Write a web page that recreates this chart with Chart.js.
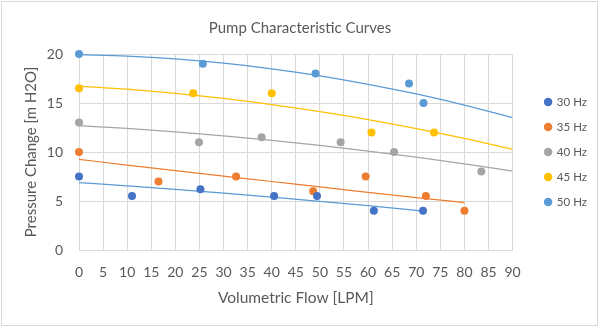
<!DOCTYPE html>
<html>
<head>
  <title>Pump Characteristic Curves</title>
  <script src="https://cdn.jsdelivr.net/npm/chart.js@4.4.1/dist/chart.umd.min.js"></script>
  <style>
    html, body { margin: 0; padding: 0; background: #fff; }
    .chart-box { position: relative; width: 600px; height: 330px; }
  </style>
</head>
<body>
  <div class="chart-box"><canvas id="pump-chart"></canvas></div>

  <script>
    // measured points, flow [LPM] vs pressure change [m H2O]
    const flow30 = [0, 11, 25.2, 40.5, 49.4, 61.2, 71.4];
    const head30 = [7.5, 5.5, 6.2, 5.5, 5.5, 4.0, 4.0];
    const flow35 = [0, 16.5, 32.6, 48.6, 59.5, 72, 80];
    const head35 = [10, 7, 7.5, 6, 7.5, 5.5, 4];
    const flow40 = [0, 24.9, 37.9, 54.3, 65.4, 83.5];
    const head40 = [13, 11, 11.5, 11, 10, 8];
    const flow45 = [0, 23.7, 40, 60.7, 73.7];
    const head45 = [16.5, 16, 16, 12, 12];
    const flow50 = [0, 25.7, 49.1, 68.5, 71.5];
    const head50 = [20, 19, 18, 17, 15];

    // trendlines
    const trendFlow30 = [0, 10, 20, 30, 40, 50, 60, 70, 71.4];
    const trend30 = [6.87, 6.54, 6.18, 5.80, 5.40, 4.97, 4.52, 4.05, 3.98];
    const trendFlow35 = [0, 10, 20, 30, 40, 50, 60, 70, 80];
    const trend35 = [9.25, 8.67, 8.10, 7.54, 6.99, 6.43, 5.89, 5.35, 4.83];
    const trendFlow = [0, 10, 20, 30, 40, 50, 60, 70, 80, 90];
    const trend40 = [12.69, 12.40, 12.05, 11.64, 11.18, 10.67, 10.10, 9.48, 8.80, 8.06];
    const trend45 = [16.73, 16.41, 15.98, 15.46, 14.84, 14.12, 13.31, 12.39, 11.38, 10.27];
    const trend50 = [19.93, 19.78, 19.49, 19.06, 18.49, 17.77, 16.91, 15.92, 14.78, 13.5];

    const seriesNames = ['30 Hz', '35 Hz', '40 Hz', '45 Hz', '50 Hz'];
    const seriesColors = ['#4472C4', '#ED7D31', '#A5A5A5', '#FFC000', '#5B9BD5'];
    const trendColors = ['#5B9BD5', '#ED7D31', '#A5A5A5', '#FFC000', '#5B9BD5'];

    const xTicks = [0, 5, 10, 15, 20, 25, 30, 35, 40, 45, 50, 55, 60, 65, 70, 75, 80, 85, 90];
    const yTicks = [0, 5, 10, 15, 20];

    const grey = '#595959';
    const fontFamily = 'Lato, "Open Sans", sans-serif';

    function pairs(xs, ys) {
      return xs.map((x, i) => ({ x: x, y: ys[i] }));
    }

    const points = [[flow30, head30], [flow35, head35], [flow40, head40], [flow45, head45], [flow50, head50]];
    const trends = [[trendFlow30, trend30], [trendFlow35, trend35], [trendFlow, trend40], [trendFlow, trend45], [trendFlow, trend50]];

    const datasets = [];
    points.forEach((p, i) => {
      datasets.push({
        label: seriesNames[i],
        data: pairs(p[0], p[1]),
        showLine: false,
        pointRadius: 4,
        pointHoverRadius: 4,
        backgroundColor: seriesColors[i],
        borderColor: seriesColors[i],
        borderWidth: 0,
        clip: false,
        order: 1
      });
    });
    trends.forEach((t, i) => {
      datasets.push({
        label: seriesNames[i] + ' trend',
        data: pairs(t[0], t[1]),
        showLine: true,
        pointRadius: 0,
        borderColor: trendColors[i],
        borderWidth: 1.25,
        cubicInterpolationMode: 'monotone',
        fill: false,
        order: 2
      });
    });

    // light frame round the whole chart, and push the legend a bit away from the plot
    const framePlugin = {
      id: 'frame',
      afterLayout(chart) {
        const lg = chart.legend;
        if (lg) { lg.left += 19; lg.right += 19; }
      },
      afterDraw(chart) {
        const ctx = chart.ctx;
        ctx.save();
        ctx.strokeStyle = '#d9d9d9';
        ctx.lineWidth = 1;
        ctx.strokeRect(1.5, 1.5, 596, 324);
        ctx.restore();
      }
    };

    new Chart(document.getElementById('pump-chart'), {
      type: 'scatter',
      data: { datasets: datasets },
      plugins: [framePlugin],
      options: {
        responsive: true,
        maintainAspectRatio: false,
        animation: false,
        layout: { padding: { left: 22, right: 22, top: 0, bottom: 4 } },
        plugins: {
          tooltip: { enabled: false },
          title: {
            display: true,
            text: 'Pump Characteristic Curves',
            color: grey,
            font: { family: fontFamily, size: 15, weight: 'normal' },
            padding: { top: 19, bottom: 17 }
          },
          legend: {
            position: 'right',
            fullSize: false,
            labels: {
              color: grey,
              font: { family: fontFamily, size: 11.5 },
              usePointStyle: true,
              pointStyle: 'circle',
              boxWidth: 6,
              boxHeight: 6,
              padding: 13.5,
              filter: item => item.datasetIndex < 5
            }
          }
        },
        scales: {
          x: {
            type: 'linear',
            min: 0,
            max: 90,
            afterBuildTicks: scale => { scale.ticks = xTicks.map(v => ({ value: v })); },
            afterFit: scale => { scale.height = 76; },
            grid: { color: '#d9d9d9', drawTicks: false },
            border: { color: '#d9d9d9' },
            ticks: { color: grey, font: { family: fontFamily, size: 14 }, padding: 14, maxRotation: 0, autoSkip: false },
            title: {
              display: true,
              text: 'Volumetric Flow [LPM]',
              color: grey,
              font: { family: fontFamily, size: 15.5 },
              padding: { top: 8, bottom: 19 }
            }
          },
          y: {
            min: 0,
            max: 20,
            afterBuildTicks: scale => { scale.ticks = yTicks.map(v => ({ value: v })); },
            afterFit: scale => { scale.width = 57; },
            grid: { color: '#d9d9d9', drawTicks: false },
            border: { color: '#d9d9d9' },
            ticks: { color: grey, font: { family: fontFamily, size: 14 }, padding: 16 },
            title: {
              display: true,
              text: 'Pressure Change [m H2O]',
              color: grey,
              font: { family: fontFamily, size: 15 },
              padding: { top: 0, bottom: 0 }
            }
          }
        }
      }
    });
  </script>
</body>
</html>
